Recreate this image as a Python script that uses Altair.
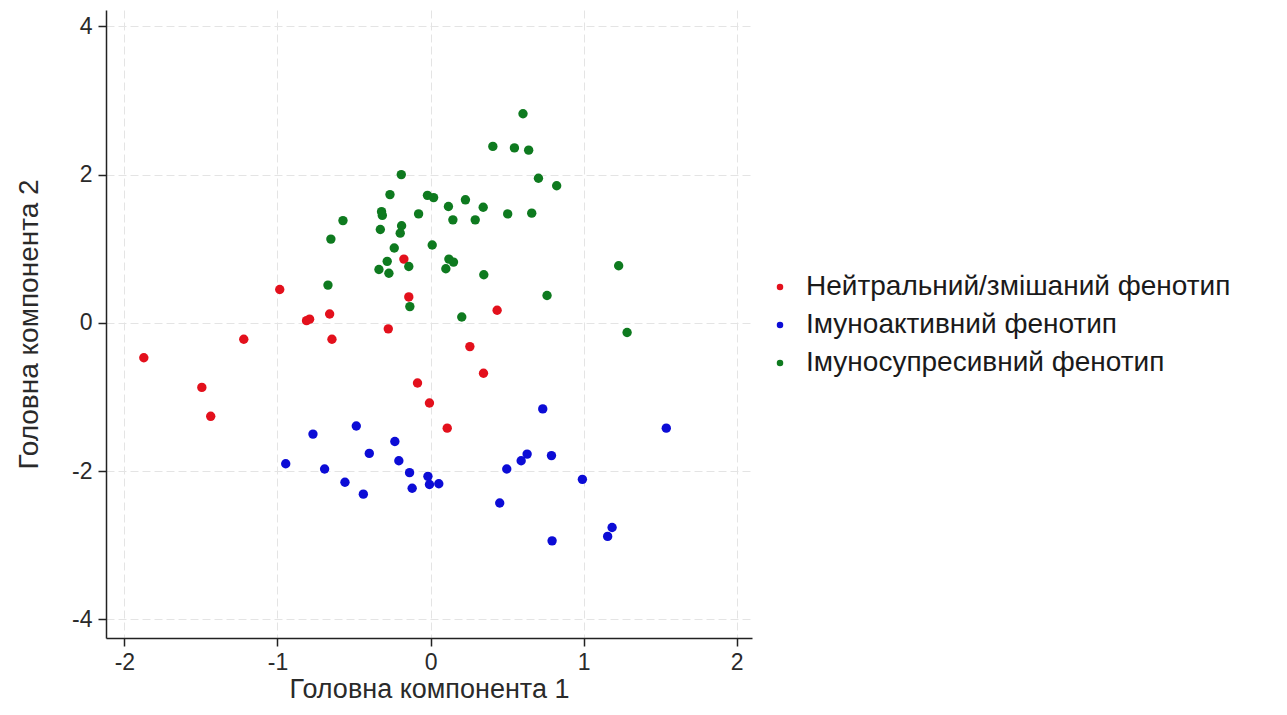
import altair as alt
import pandas as pd

groups = ["Нейтральний/змішаний фенотип", "Імуноактивний фенотип", "Імуносупресивний фенотип"]
colors = ["#e3101c", "#0c0cd6", "#0e7a1f"]

red_x = [-1.873, -1.494, -1.436, -1.22, -0.985, -0.81, -0.79, -0.659, -0.644, -0.174, -0.142, -0.276, 0.435, 0.257, 0.346, -0.085, -0.007, 0.109]
red_y = [-0.47, -0.87, -1.26, -0.22, 0.45, 0.03, 0.05, 0.12, -0.22, 0.86, 0.35, -0.08, 0.17, -0.32, -0.68, -0.81, -1.08, -1.42]

blue_x = [-0.946, -0.768, -0.692, -0.559, -0.485, -0.439, -0.40, -0.233, -0.207, -0.137, -0.12, -0.017, -0.007, 0.054,
          0.452, 0.498, 0.592, 0.631, 0.733, 0.790, 0.794, 0.992, 1.157, 1.186, 1.54]
blue_y = [-1.90, -1.50, -1.97, -2.15, -1.39, -2.31, -1.76, -1.60, -1.86, -2.02, -2.23, -2.07, -2.18, -2.17,
          -2.43, -1.97, -1.86, -1.77, -1.16, -1.79, -2.94, -2.11, -2.88, -2.76, -1.42]

green_x = [-0.191, -0.265, -0.02, 0.02, 0.228, 0.117, 0.344, 0.146, 0.292, -0.078, -0.32, -0.315, -0.572, -0.328,
           -0.189, -0.198, -0.651, -0.237, 0.011, -0.283, -0.337, -0.272, -0.142, 0.12, 0.15, 0.10, 0.348, -0.670,
           -0.135, 0.204, 0.604, 0.407, 0.548, 0.641, 0.705, 0.824, 0.661, 0.504, 0.761, 1.229, 1.284]
green_y = [2.00, 1.73, 1.72, 1.69, 1.66, 1.57, 1.56, 1.39, 1.39, 1.47, 1.50, 1.45, 1.38, 1.26,
           1.31, 1.21, 1.13, 1.01, 1.05, 0.83, 0.72, 0.67, 0.76, 0.86, 0.82, 0.73, 0.65, 0.51,
           0.22, 0.08, 2.82, 2.38, 2.36, 2.33, 1.95, 1.85, 1.48, 1.47, 0.37, 0.77, -0.13]

x_ticks = [-2, -1, 0, 1, 2]
y_ticks = [-4, -2, 0, 2, 4]

rows = []
for g, xs, ys in [(groups[0], red_x, red_y), (groups[1], blue_x, blue_y), (groups[2], green_x, green_y)]:
    for a, b in zip(xs, ys):
        rows.append({"pc1": a, "pc2": b, "group": g})
df = pd.DataFrame(rows)

FONT = "Liberation Sans"
LBL = "datum.value < 0 ? '-' + abs(datum.value) : '' + datum.value"

chart = alt.Chart(df).mark_circle(size=88, opacity=1).encode(
    x=alt.X("pc1:Q", title="Головна компонента 1",
            scale=alt.Scale(domain=[-2.12, 2.1], nice=False, zero=False),
            axis=alt.Axis(values=x_ticks, labelExpr=LBL, titleFontSize=27)),
    y=alt.Y("pc2:Q", title="Головна компонента 2",
            scale=alt.Scale(domain=[-4.25, 4.22], nice=False, zero=False),
            axis=alt.Axis(values=y_ticks, labelExpr=LBL)),
    color=alt.Color("group:N", sort=groups,
                    scale=alt.Scale(domain=groups, range=colors),
                    legend=alt.Legend(title=None, orient="none", legendX=660, legendY=263,
                                      symbolType="circle", symbolSize=42, labelFontSize=28,
                                      labelFont=FONT, labelColor="#1a1a1a", rowPadding=10,
                                      labelOffset=12, symbolStrokeWidth=0, labelLimit=0)),
).properties(
    width=646, height=628,
    padding={"left": 98, "top": 2, "right": 500, "bottom": 69},
    autosize=alt.AutoSizeParams(type="none"),
).configure_view(stroke=None).configure_axis(
    domainColor="#222222", domainWidth=1.5, tickColor="#222222", tickWidth=1.5, tickSize=8,
    labelFont=FONT, labelFontSize=23, labelColor="#2a2a2a", titleFont=FONT, titleFontSize=28,
    titleFontWeight="normal", titleColor="#2a2a2a", gridColor="#e4e4e4", gridDash=[8, 4], gridWidth=1,
).configure_axisX(labelPadding=5, titlePadding=2).configure_axisY(labelPadding=6, titlePadding=28)

chart.save("out.html", embed_options={"renderer": "svg", "actions": False})
